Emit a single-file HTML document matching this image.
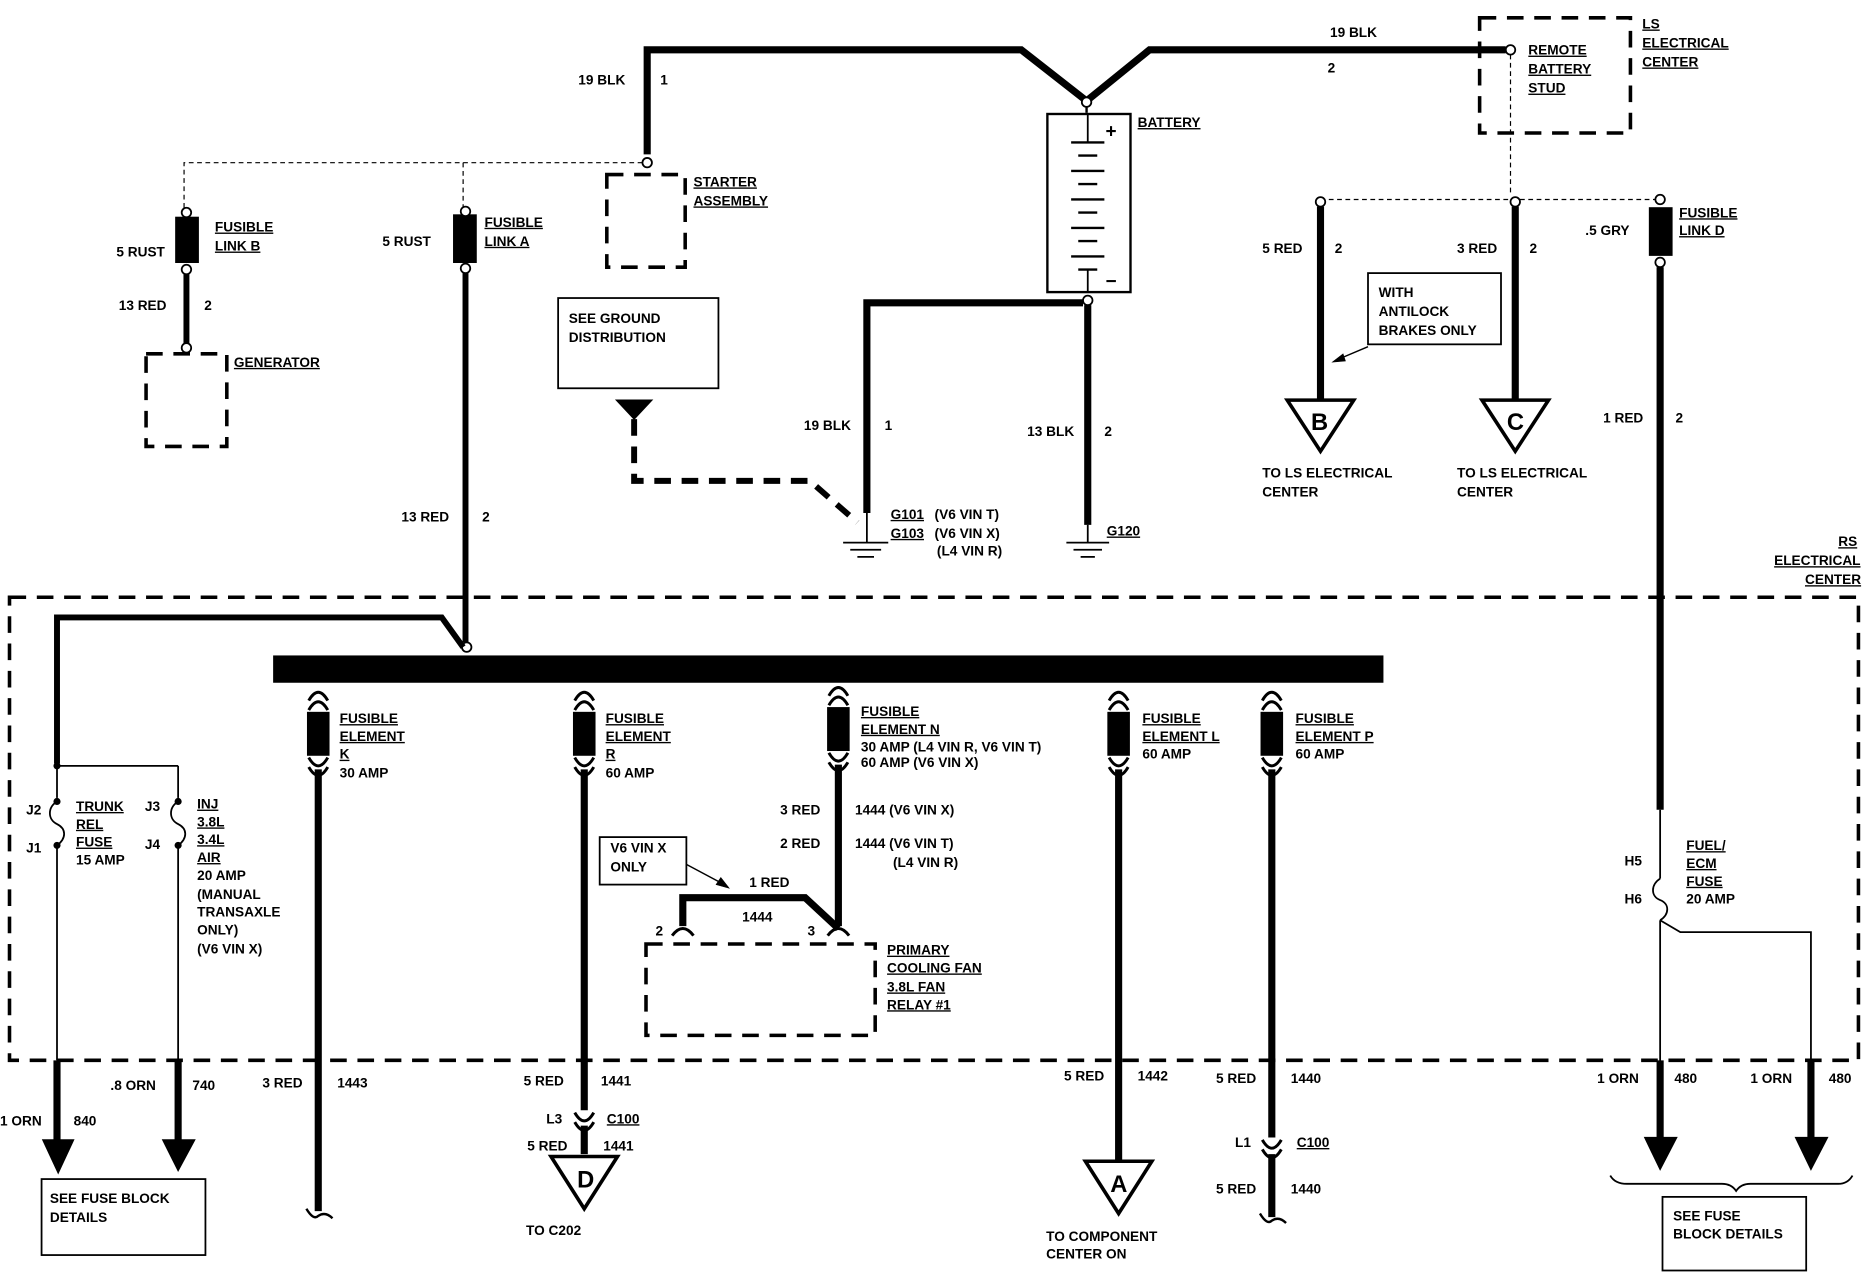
<!DOCTYPE html>
<html><head><meta charset="utf-8"><style>
html,body{margin:0;padding:0;background:#fff;}
svg{display:block;}
text{font-family:"Liberation Sans",sans-serif;font-weight:bold;font-size:11.5px;fill:#000;}
.u{text-decoration:underline;}
</style></head><body>
<svg width="1862" height="1280" viewBox="0 0 1568 1078" preserveAspectRatio="none" xmlns="http://www.w3.org/2000/svg">
<g fill="none" stroke="#000" stroke-linejoin="miter">
<polyline points="545,130 545,42 860,42 915,85 968,42 1268,42" stroke-width="6"/>
<circle cx="545" cy="137" r="4" stroke-width="1.5" fill="#fff"/>
<circle cx="915" cy="86" r="4" stroke-width="1.5" fill="#fff"/>
<line x1="915" y1="90" x2="915" y2="95" stroke-width="2"/>
<circle cx="1272" cy="42" r="4" stroke-width="1.5" fill="#fff"/>
<rect x="511" y="147" width="66" height="78" stroke-width="3" stroke-dasharray="14,9"/>
<polyline points="541,137 155,137 155,176" stroke-width="1" stroke-dasharray="4,3"/>
<line x1="390" y1="137" x2="390" y2="176" stroke-width="1" stroke-dasharray="4,3"/>
<rect x="148" y="183" width="19" height="38" fill="#000" stroke-width="1"/>
<circle cx="157" cy="179" r="4" stroke-width="1.5" fill="#fff"/>
<circle cx="157" cy="227" r="4" stroke-width="1.5" fill="#fff"/>
<line x1="157" y1="231" x2="157" y2="289" stroke-width="5"/>
<circle cx="157" cy="293" r="4" stroke-width="1.5" fill="#fff"/>
<rect x="123" y="298" width="68" height="78" stroke-width="3" stroke-dasharray="14,9"/>
<rect x="382" y="181" width="19" height="40" fill="#000" stroke-width="1"/>
<circle cx="392" cy="178" r="4" stroke-width="1.5" fill="#fff"/>
<circle cx="392" cy="226" r="4" stroke-width="1.5" fill="#fff"/>
<line x1="392" y1="230" x2="392" y2="541" stroke-width="5"/>
<circle cx="393" cy="545" r="4" stroke-width="1.5" fill="#fff"/>
<rect x="882" y="96" width="70" height="150" stroke-width="2"/>
<g stroke-width="2">
<line x1="902" y1="120" x2="930" y2="120"/><line x1="908" y1="131" x2="924" y2="131"/>
<line x1="902" y1="144" x2="930" y2="144"/><line x1="908" y1="155" x2="924" y2="155"/>
<line x1="902" y1="168" x2="930" y2="168"/><line x1="908" y1="179" x2="924" y2="179"/>
<line x1="902" y1="192" x2="930" y2="192"/><line x1="908" y1="203" x2="924" y2="203"/>
<line x1="902" y1="216" x2="930" y2="216"/><line x1="908" y1="227" x2="924" y2="227"/>
</g>
<line x1="916" y1="96" x2="916" y2="120" stroke-width="1.5"/>
<line x1="916" y1="227" x2="916" y2="246" stroke-width="1.5"/>
<circle cx="916" cy="253" r="4" stroke-width="1.5" fill="#fff"/>
<polyline points="912,255 730,255 730,432" stroke-width="6"/>
<line x1="916" y1="257" x2="916" y2="442" stroke-width="6"/>
<g stroke-width="1.5">
<line x1="710" y1="457" x2="748" y2="457"/><line x1="716" y1="463" x2="742" y2="463"/><line x1="722" y1="469" x2="736" y2="469"/>
<line x1="898" y1="457" x2="934" y2="457"/><line x1="904" y1="463" x2="928" y2="463"/><line x1="910" y1="469" x2="922" y2="469"/>
<line x1="730" y1="432" x2="730" y2="457"/><line x1="916" y1="442" x2="916" y2="457"/>
</g>
<rect x="470" y="251" width="135" height="76" stroke-width="1.5"/>
<polygon points="519,337 549,337 534,353" fill="#000" stroke-width="1"/>
<polyline points="534,353 534,405 682,405 722,440" stroke-width="5" stroke-dasharray="14,9"/>
<rect x="1246" y="15" width="127" height="97" stroke-width="3" stroke-dasharray="14,9"/>
<line x1="1272" y1="46" x2="1272" y2="165" stroke-width="1" stroke-dasharray="4,3"/>
<line x1="1112" y1="168" x2="1398" y2="168" stroke-width="1" stroke-dasharray="4,3"/>
<circle cx="1112" cy="170" r="4" stroke-width="1.5" fill="#fff"/>
<circle cx="1276" cy="170" r="4" stroke-width="1.5" fill="#fff"/>
<line x1="1112" y1="174" x2="1112" y2="336" stroke-width="6"/>
<line x1="1276" y1="174" x2="1276" y2="336" stroke-width="6"/>
<polygon points="1084,337 1140,337 1112,380" stroke-width="3" fill="#fff"/>
<polygon points="1248,337 1304,337 1276,380" stroke-width="3" fill="#fff"/>
<rect x="1152" y="230" width="112" height="60" stroke-width="1.5"/>
<line x1="1152" y1="292" x2="1126" y2="303" stroke-width="1.2"/>
<polygon points="1122,305 1131,298 1133,304" fill="#000" stroke-width="0.5"/>
<circle cx="1398" cy="168" r="4" stroke-width="1.5" fill="#fff"/>
<rect x="1389" y="175" width="19" height="40" fill="#000" stroke-width="1"/>
<circle cx="1398" cy="221" r="4" stroke-width="1.5" fill="#fff"/>
<line x1="1398" y1="225" x2="1398" y2="682" stroke-width="6"/>
<rect x="8" y="503" width="1557" height="390" stroke-width="3" stroke-dasharray="14,9"/>
<rect x="230" y="552" width="935" height="23" fill="#000" stroke-width="0"/>
<polyline points="390,545 372,520 48,520 48,643" stroke-width="5"/>
<line x1="48" y1="645" x2="150" y2="645" stroke-width="1.5"/>
<line x1="150" y1="645" x2="150" y2="672" stroke-width="1.5"/>
<line x1="48" y1="645" x2="48" y2="672" stroke-width="1.5"/>
<circle cx="48" cy="645" r="2.5" fill="#000"/>
<path d="M48,675 C40,680 40,690 48,694 C56,698 56,706 48,712" stroke-width="1.5"/>
<path d="M150,675 C142,680 142,690 150,694 C158,698 158,706 150,712" stroke-width="1.5"/>
<circle cx="48" cy="675" r="2.5" fill="#000"/><circle cx="48" cy="712" r="2.5" fill="#000"/>
<circle cx="150" cy="675" r="2.5" fill="#000"/><circle cx="150" cy="712" r="2.5" fill="#000"/>
<line x1="48" y1="712" x2="48" y2="893" stroke-width="1.5"/>
<line x1="150" y1="712" x2="150" y2="893" stroke-width="1.5"/>
<line x1="48" y1="893" x2="48" y2="962" stroke-width="6"/>
<line x1="150" y1="893" x2="150" y2="962" stroke-width="6"/>
<polygon points="36,960 62,960 49,988" fill="#000" stroke-width="1"/>
<polygon points="137,960 164,960 150,986" fill="#000" stroke-width="1"/>
<rect x="35" y="993" width="138" height="64" stroke-width="1.5"/>
</g>
<g fill="none" stroke="#000">
<g transform="translate(268,0)">
<path d="M-8,590 Q0,576 8,590 M-8,598 Q0,584 8,598" stroke-width="2.5"/>
<rect x="-9" y="600" width="18" height="36" fill="#000"/>
<path d="M-8,638 Q0,652 8,638 M-8,646 Q0,660 8,646" stroke-width="2.5"/>
<line x1="0" y1="648" x2="0" y2="1020" stroke-width="6"/>
<path d="M-10,1018 Q-4,1028 0,1024 Q6,1020 12,1026" stroke-width="2"/>
</g>
<g transform="translate(492,0)">
<path d="M-8,590 Q0,576 8,590 M-8,598 Q0,584 8,598" stroke-width="2.5"/>
<rect x="-9" y="600" width="18" height="36" fill="#000"/>
<path d="M-8,638 Q0,652 8,638 M-8,646 Q0,660 8,646" stroke-width="2.5"/>
<line x1="0" y1="648" x2="0" y2="935" stroke-width="6"/>
<path d="M-8,937 Q0,951 8,937 M-8,945 Q0,959 8,945" stroke-width="2.5"/>
<line x1="0" y1="948" x2="0" y2="972" stroke-width="6"/>
<polygon points="-28,974 28,974 0,1018" stroke-width="3" fill="#fff"/>
</g>
<g transform="translate(706,0)">
<path d="M-8,586 Q0,572 8,586 M-8,594 Q0,580 8,594" stroke-width="2.5"/>
<rect x="-9" y="596" width="18" height="36" fill="#000"/>
<path d="M-8,634 Q0,648 8,634 M-8,642 Q0,656 8,642" stroke-width="2.5"/>
<line x1="0" y1="644" x2="0" y2="780" stroke-width="6"/>
</g>
<polyline points="706,782 678,756 575,756 575,780" stroke-width="6"/>
<path d="M566,788 Q575,776 584,788" stroke-width="2.5"/>
<path d="M697,788 Q706,776 715,788" stroke-width="2.5"/>
<rect x="544" y="795" width="193" height="77" stroke-width="3" stroke-dasharray="14,9"/>
<rect x="505" y="705" width="73" height="40" stroke-width="1.5"/>
<line x1="578" y1="728" x2="608" y2="744" stroke-width="1.2"/>
<polygon points="614,748 603,745 607,739" fill="#000" stroke-width="0.5"/>
<g transform="translate(942,0)">
<path d="M-8,590 Q0,576 8,590 M-8,598 Q0,584 8,598" stroke-width="2.5"/>
<rect x="-9" y="600" width="18" height="36" fill="#000"/>
<path d="M-8,638 Q0,652 8,638 M-8,646 Q0,660 8,646" stroke-width="2.5"/>
<line x1="0" y1="648" x2="0" y2="978" stroke-width="6"/>
<polygon points="-28,978 28,978 0,1022" stroke-width="3" fill="#fff"/>
</g>
<g transform="translate(1071,0)">
<path d="M-8,590 Q0,576 8,590 M-8,598 Q0,584 8,598" stroke-width="2.5"/>
<rect x="-9" y="600" width="18" height="36" fill="#000"/>
<path d="M-8,638 Q0,652 8,638 M-8,646 Q0,660 8,646" stroke-width="2.5"/>
<line x1="0" y1="648" x2="0" y2="958" stroke-width="6"/>
<path d="M-8,960 Q0,974 8,960 M-8,968 Q0,982 8,968" stroke-width="2.5"/>
<line x1="0" y1="972" x2="0" y2="1025" stroke-width="6"/>
<path d="M-10,1022 Q-4,1032 0,1028 Q6,1024 12,1030" stroke-width="2"/>
</g>
<line x1="1398" y1="682" x2="1398" y2="740" stroke-width="1.5"/>
<path d="M1398,740 C1390,745 1390,755 1398,758 C1406,761 1406,770 1398,775" stroke-width="1.5"/>
<line x1="1398" y1="775" x2="1398" y2="958" stroke-width="1.5"/>
<polyline points="1398,775 1415,785 1525,785 1525,958" stroke-width="1.5"/>
<line x1="1398" y1="893" x2="1398" y2="958" stroke-width="6"/>
<line x1="1525" y1="893" x2="1525" y2="958" stroke-width="6"/>
<polygon points="1385,958 1412,958 1398,985" fill="#000" stroke-width="1"/>
<polygon points="1512,958 1539,958 1525,985" fill="#000" stroke-width="1"/>
<path d="M1356,990 Q1360,997 1370,997 L1450,997 Q1458,997 1462,1003 Q1466,997 1474,997 L1548,997 Q1556,997 1560,990" stroke-width="1.5"/>
<rect x="1400" y="1008" width="121" height="62" stroke-width="1.5"/>
</g>
<text x="487" y="71">19 BLK</text><text x="556" y="71">1</text>
<text x="1120" y="31">19 BLK</text><text x="1118" y="61">2</text>
<text x="584" y="157" class="u">STARTER</text><text x="584" y="173" class="u">ASSEMBLY</text>
<text x="958" y="107" class="u">BATTERY</text>
<text x="931" y="116" style="font-size:16px">+</text><text x="931" y="242" style="font-size:16px">−</text>
<text x="1287" y="46" class="u">REMOTE</text><text x="1287" y="62" class="u">BATTERY</text><text x="1287" y="78" class="u">STUD</text>
<text x="1383" y="24" class="u">LS</text><text x="1383" y="40" class="u">ELECTRICAL</text><text x="1383" y="56" class="u">CENTER</text>
<text x="181" y="195" class="u">FUSIBLE</text><text x="181" y="211" class="u">LINK B</text>
<text x="98" y="216">5 RUST</text><text x="100" y="261">13 RED</text><text x="172" y="261">2</text>
<text x="197" y="309" class="u">GENERATOR</text>
<text x="408" y="191" class="u">FUSIBLE</text><text x="408" y="207" class="u">LINK A</text>
<text x="322" y="207">5 RUST</text>
<text x="479" y="272">SEE GROUND</text><text x="479" y="288">DISTRIBUTION</text>
<text x="677" y="362">19 BLK</text><text x="745" y="362">1</text>
<text x="865" y="367">13 BLK</text><text x="930" y="367">2</text>
<text x="338" y="439">13 RED</text><text x="406" y="439">2</text>
<text x="750" y="437" class="u">G101</text><text x="787" y="437">(V6  VIN T)</text>
<text x="750" y="453" class="u">G103</text><text x="787" y="453">(V6  VIN X)</text>
<text x="789" y="468">(L4 VIN R)</text>
<text x="932" y="451" class="u">G120</text>
<text x="1063" y="213">5 RED</text><text x="1124" y="213">2</text>
<text x="1227" y="213">3 RED</text><text x="1288" y="213">2</text>
<text x="1161" y="250">WITH</text><text x="1161" y="266">ANTILOCK</text><text x="1161" y="282">BRAKES ONLY</text>
<text x="1104" y="362" style="font-size:20px">B</text><text x="1269" y="362" style="font-size:20px">C</text>
<text x="1063" y="402">TO LS ELECTRICAL</text><text x="1063" y="418">CENTER</text>
<text x="1227" y="402">TO LS ELECTRICAL</text><text x="1227" y="418">CENTER</text>
<text x="1335" y="198">.5 GRY</text>
<text x="1414" y="183" class="u">FUSIBLE</text><text x="1414" y="198" class="u">LINK D</text>
<text x="1350" y="356">1 RED</text><text x="1411" y="356">2</text>
<text x="1548" y="460" class="u">RS</text>
<text x="1494" y="476" class="u">ELECTRICAL</text>
<text x="1520" y="492" class="u">CENTER</text>
<text x="286" y="609" class="u">FUSIBLE</text><text x="286" y="624" class="u">ELEMENT</text><text x="286" y="639" class="u">K</text><text x="286" y="655">30 AMP</text>
<text x="510" y="609" class="u">FUSIBLE</text><text x="510" y="624" class="u">ELEMENT</text><text x="510" y="639" class="u">R</text><text x="510" y="655">60 AMP</text>
<text x="725" y="603" class="u">FUSIBLE</text><text x="725" y="618" class="u">ELEMENT N</text><text x="725" y="633">30 AMP (L4 VIN R, V6 VIN T)</text><text x="725" y="646">60 AMP (V6 VIN X)</text>
<text x="962" y="609" class="u">FUSIBLE</text><text x="962" y="624" class="u">ELEMENT L</text><text x="962" y="639">60 AMP</text>
<text x="1091" y="609" class="u">FUSIBLE</text><text x="1091" y="624" class="u">ELEMENT P</text><text x="1091" y="639">60 AMP</text>
<text x="22" y="686">J2</text><text x="22" y="718">J1</text>
<text x="64" y="683" class="u">TRUNK</text><text x="64" y="698" class="u">REL</text><text x="64" y="713" class="u">FUSE</text><text x="64" y="728">15 AMP</text>
<text x="122" y="683">J3</text><text x="122" y="715">J4</text>
<text x="166" y="681" class="u">INJ</text><text x="166" y="696" class="u">3.8L</text><text x="166" y="711" class="u">3.4L</text><text x="166" y="726" class="u">AIR</text>
<text x="166" y="741">20 AMP</text><text x="166" y="757">(MANUAL</text><text x="166" y="772">TRANSAXLE</text><text x="166" y="787">ONLY)</text><text x="166" y="803">(V6 VIN X)</text>
<text x="657" y="686">3 RED</text><text x="720" y="686">1444 (V6  VIN X)</text>
<text x="657" y="714">2 RED</text><text x="720" y="714">1444 (V6  VIN T)</text><text x="752" y="730">(L4 VIN R)</text>
<text x="514" y="718">V6 VIN X</text><text x="514" y="734">ONLY</text>
<text x="631" y="747">1 RED</text><text x="625" y="776">1444</text>
<text x="552" y="788">2</text><text x="680" y="788">3</text>
<text x="747" y="804" class="u">PRIMARY</text><text x="747" y="819" class="u">COOLING FAN</text><text x="747" y="835" class="u">3.8L FAN</text><text x="747" y="850" class="u">RELAY #1</text>
<text x="1420" y="716" class="u">FUEL/</text><text x="1420" y="731" class="u">ECM</text><text x="1420" y="746" class="u">FUSE</text><text x="1420" y="761">20 AMP</text>
<text x="1368" y="729">H5</text><text x="1368" y="761">H6</text>
<text x="0" y="948">1 ORN</text><text x="62" y="948">840</text>
<text x="93" y="918">.8 ORN</text><text x="162" y="918">740</text>
<text x="221" y="916">3 RED</text><text x="284" y="916">1443</text>
<text x="441" y="914">5 RED</text><text x="506" y="914">1441</text>
<text x="460" y="946">L3</text><text x="511" y="946" class="u">C100</text>
<text x="444" y="969">5 RED</text><text x="508" y="969">1441</text>
<text x="486" y="1000" style="font-size:20px">D</text>
<text x="443" y="1040">TO C202</text>
<text x="896" y="910">5 RED</text><text x="958" y="910">1442</text>
<text x="935" y="1004" style="font-size:20px">A</text>
<text x="881" y="1045">TO COMPONENT</text><text x="881" y="1060">CENTER ON</text>
<text x="1024" y="912">5 RED</text><text x="1087" y="912">1440</text>
<text x="1040" y="966">L1</text><text x="1092" y="966" class="u">C100</text>
<text x="1024" y="1005">5 RED</text><text x="1087" y="1005">1440</text>
<text x="1345" y="912">1 ORN</text><text x="1410" y="912">480</text>
<text x="1474" y="912">1 ORN</text><text x="1540" y="912">480</text>
<text x="42" y="1013">SEE FUSE BLOCK</text><text x="42" y="1029">DETAILS</text>
<text x="1409" y="1028">SEE FUSE</text><text x="1409" y="1043">BLOCK DETAILS</text>
</svg>
</body></html>
